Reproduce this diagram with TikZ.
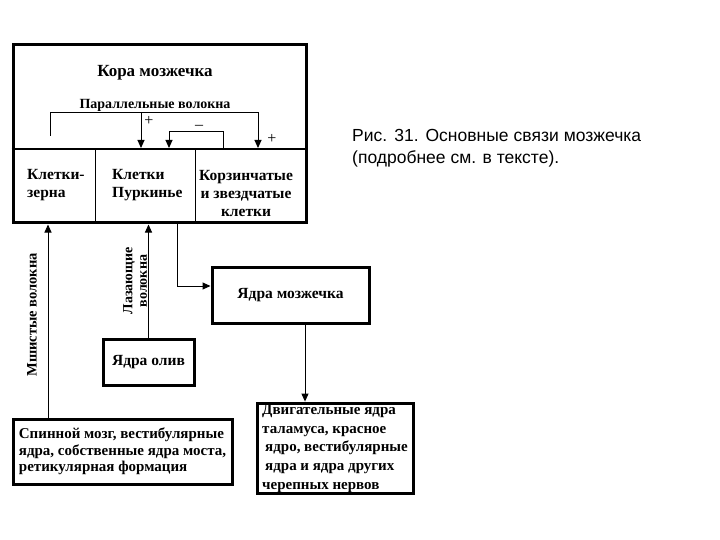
\documentclass[tikz,border=0pt]{standalone}
\usepackage{fontspec}
\setmainfont{Liberation Serif}
\newfontfamily\capfont{Liberation Sans}
\usetikzlibrary{arrows.meta}
\begin{document}
\begin{tikzpicture}[x=1pt,y=-1pt,
  box/.style={draw,line width=3pt,inner sep=1.5pt,font=\bfseries\fontsize{15.5}{18}\selectfont},
  txt/.style={inner sep=0pt,font=\bfseries\fontsize{15.5}{18}\selectfont},
  conn/.style={line width=1pt},
  arr/.style={line width=1pt,-{Triangle[width=7pt,length=8pt]}},
  sign/.style={inner sep=0pt,font=\fontsize{16}{16}\selectfont}]
\useasboundingbox (0,0) rectangle (720,540);
% cortex box
\node[box,minimum width=293pt,minimum height=178pt] (cortex) at (159.5,134) {};
\node[txt,font=\bfseries\fontsize{17}{19}\selectfont] (title) at (155,73) {Кора мозжечка};
\node[txt,font=\bfseries\fontsize{14}{16}\selectfont] (pf) at (155,105) {Параллельные волокна};
% dividers
\coordinate (dy) at (0,149);
\draw[line width=1.8pt] (cortex.west |- dy) -- (cortex.east |- dy);
\coordinate (v1) at (95,0);
\coordinate (v2) at (195,0);
\draw[line width=1pt] (v1 |- dy) -- (v1 |- cortex.south);
\draw[line width=1pt] (v2 |- dy) -- (v2 |- cortex.south);
% cells
\node[txt,align=left,anchor=north west] (gran) at (27,169) {Клетки-\\зерна};
\node[txt,align=left,anchor=north west] (purk) at (112,169) {Клетки\\Пуркинье};
\node[txt,align=center] (bask) at (246,194) {Корзинчатые\\и звездчатые\\клетки};
% parallel fibres
\coordinate (g0) at (50,136);
\coordinate (g1) at (50,113);
\coordinate (pj) at (141,113);
\coordinate (pjd) at (141,148);
\coordinate (bs) at (258,113);
\coordinate (bsd) at (258,148);
\draw[arr] (g0) -- (g1) -- (bs) -- (bsd);
\draw[arr] (pj) -- (pjd);
\node[sign] (p1) at (149,121) {+};
\node[sign] (p2) at (272,139) {+};
% inhibitory loop
\coordinate (m0) at (223,149);
\coordinate (m1) at (223,132);
\coordinate (m2) at (169,132);
\coordinate (m3) at (169,148);
\draw[arr] (m0) -- (m1) -- (m2) -- (m3);
\node[sign] (mn) at (199,127) {\textendash};
% lower boxes
\node[box,minimum width=157pt,minimum height=56pt] (nuclei) at (290.5,295) {Ядра мозжечка};
\node[box,minimum width=91pt,minimum height=46pt] (olive) at (148.5,362) {Ядра олив};
\node[box,minimum width=219pt,minimum height=65pt,align=left,font=\bfseries\fontsize{15}{16.5}\selectfont] (spinal) at (122.5,451.5)
  {Спинной мозг, вестибулярные\\ядра, собственные ядра моста,\\ретикулярная формация};
\node[box,minimum width=156pt,minimum height=89pt,align=left,font=\bfseries\fontsize{15}{18.7}\selectfont] (motor) at (335,448.5)
  {Двигательные ядра\\таламуса, красное\\\hspace*{3pt}ядро, вестибулярные\\\hspace*{3pt}ядра и ядра других\\черепных нервов};
% connectors
\coordinate (mx) at (48,0);
\draw[arr] (spinal.north -| mx) -- (cortex.south -| mx);
\draw[arr] (olive.north) -- (olive.north |- cortex.south);
\coordinate (px) at (177,0);
\coordinate (ny) at (0,286);
\draw[arr] (cortex.south -| px) |- (nuclei.west |- ny);
\coordinate (qx) at (305,0);
\draw[arr] (nuclei.south -| qx) -- (motor.north -| qx);
% rotated labels
\node[txt,rotate=90,font=\bfseries\fontsize{14.5}{16}\selectfont] (mossy) at (32,315) {Мшистые волокна};
\node[txt,rotate=90,align=center,font=\bfseries\fontsize{14}{14.5}\selectfont] (climb) at (135,281) {Лазающие\\волокна};
% caption
\node[inner sep=0pt,anchor=base west,align=left,font=\capfont\fontsize{17.5}{22}\selectfont] (cap) at (352,164)
  {\makebox[289pt][s]{Рис. 31. Основные связи мозжечка}\\(подробнее см. в тексте).};
\end{tikzpicture}
\end{document}
